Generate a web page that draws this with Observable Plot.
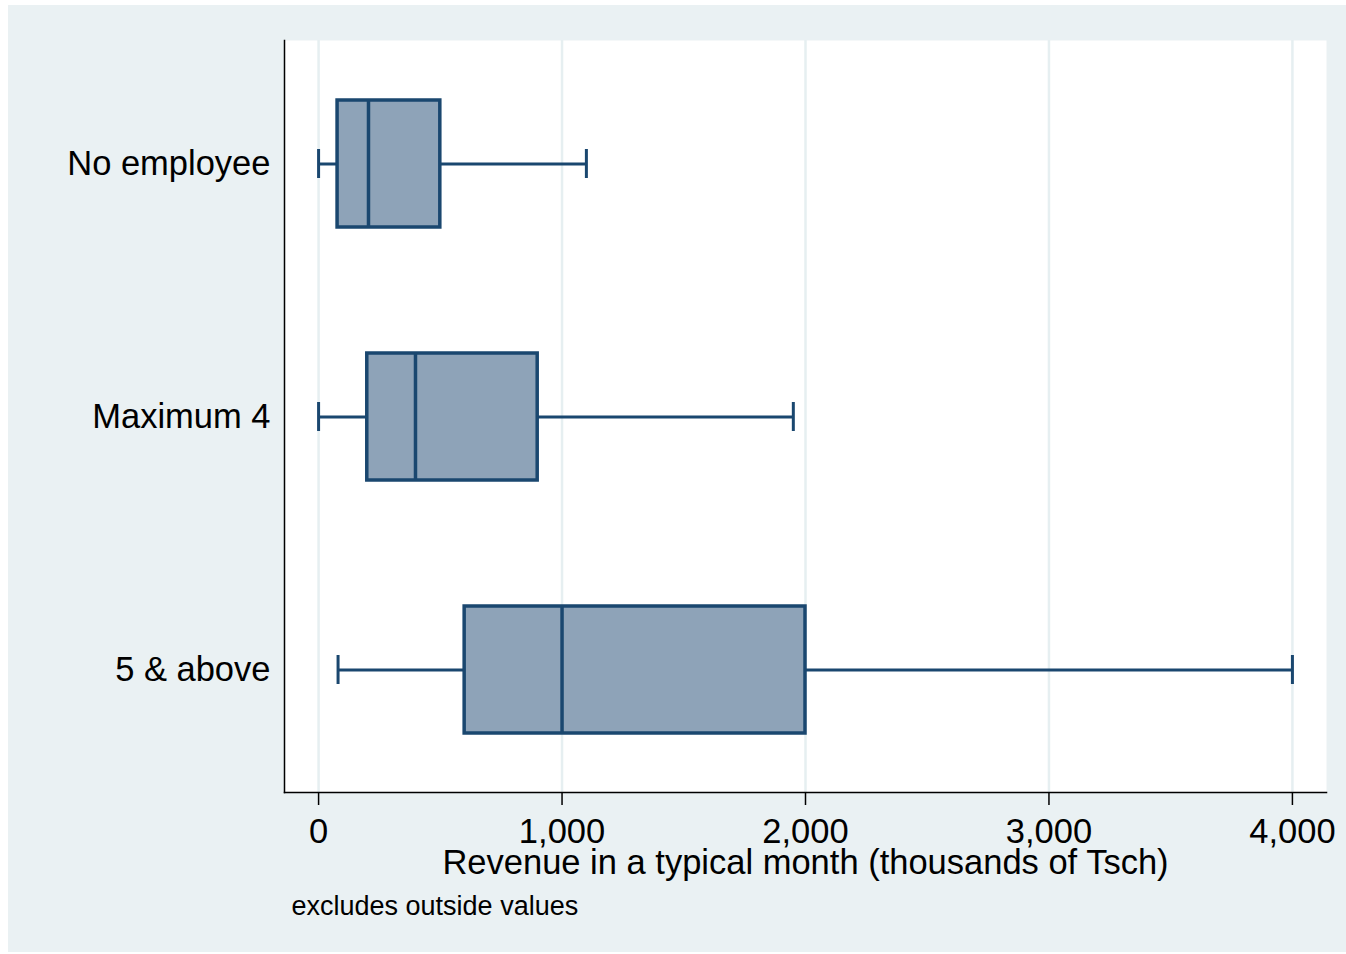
<!DOCTYPE html>
<html>
<head>
<meta charset="utf-8">
<script src="https://cdn.jsdelivr.net/npm/d3@7"></script>
<script src="https://cdn.jsdelivr.net/npm/@observablehq/plot@0.6"></script>
<style>
  html, body { margin: 0; padding: 0; background: #ffffff; }
  #wrap { position: absolute; left: 8px; top: 5px; width: 1338px; height: 947px; background: #EAF1F3; }
  #wrap svg { display: block; }
</style>
</head>
<body>
<div id="wrap"></div>
<script>
const categories = ["No employee", "Maximum 4", "5 & above"];
const lowWhisker = [0, 0, 80];
const q1 = [78, 200, 600];
const medians = [205, 398, 1000];
const q3 = [500, 900, 2000];
const highWhisker = [1100, 1950, 4000];
const xTicks = [0, 1000, 2000, 3000, 4000];
const xLabel = "Revenue in a typical month (thousands of Tsch)";
const note = "excludes outside values";

const data = categories.map((c, i) => ({
  cat: c, lo: lowWhisker[i], q1: q1[i], med: medians[i], q3: q3[i], hi: highWhisker[i]
}));

const navy = "#1a476f";
const boxFill = "#8EA3B8";
const font = "Liberation Sans, Arial, Helvetica, sans-serif";
const fs = 34.5;

const chart = Plot.plot({
  width: 1338,
  height: 947,
  marginLeft: 276,
  marginRight: 20,
  marginTop: 35,
  marginBottom: 160,
  style: { fontFamily: font, fontSize: fs + "px", color: "black", background: "transparent" },
  x: { domain: [-140, 4140] },
  y: { domain: categories, paddingInner: 0.5, paddingOuter: 0.233 },
  marks: [
    Plot.frame({ fill: "white", stroke: "none" }),
    Plot.gridX(xTicks, { stroke: "#E6EFF1", strokeOpacity: 1, strokeWidth: 2.5 }),
    Plot.frame({ anchor: "left", stroke: "black", strokeWidth: 1.5 }),
    Plot.frame({ anchor: "bottom", stroke: "black", strokeWidth: 1.5 }),
    Plot.axisX({
      ticks: xTicks, tickFormat: d3.format(","), tickSize: 13, tickPadding: 12.5,
      fontSize: fs, stroke: "black", strokeWidth: 1.5,
      label: xLabel, labelAnchor: "center", labelOffset: 81, labelArrow: "none"
    }),
    Plot.axisY({ tickSize: 0, tickPadding: 14, fontSize: fs, label: null }),
    Plot.ruleY(data, { y: "cat", x1: "lo", x2: "q1", stroke: navy, strokeWidth: 3 }),
    Plot.ruleY(data, { y: "cat", x1: "q3", x2: "hi", stroke: navy, strokeWidth: 3 }),
    Plot.tickX(data, { x: "lo", y: "cat", stroke: navy, strokeWidth: 3, insetTop: 49, insetBottom: 49 }),
    Plot.tickX(data, { x: "hi", y: "cat", stroke: navy, strokeWidth: 3, insetTop: 49, insetBottom: 49 }),
    Plot.barX(data, { y: "cat", x1: "q1", x2: "q3", fill: boxFill, stroke: navy, strokeWidth: 3.5 }),
    Plot.tickX(data, { x: "med", y: "cat", stroke: navy, strokeWidth: 3.5 }),
    Plot.text([note], { frameAnchor: "bottom-left", text: d => d, dx: 7, dy: 122, lineAnchor: "bottom", textAnchor: "start", fontSize: 27, fill: "black" })
  ]
});
document.getElementById("wrap").appendChild(chart);
</script>
</body>
</html>
